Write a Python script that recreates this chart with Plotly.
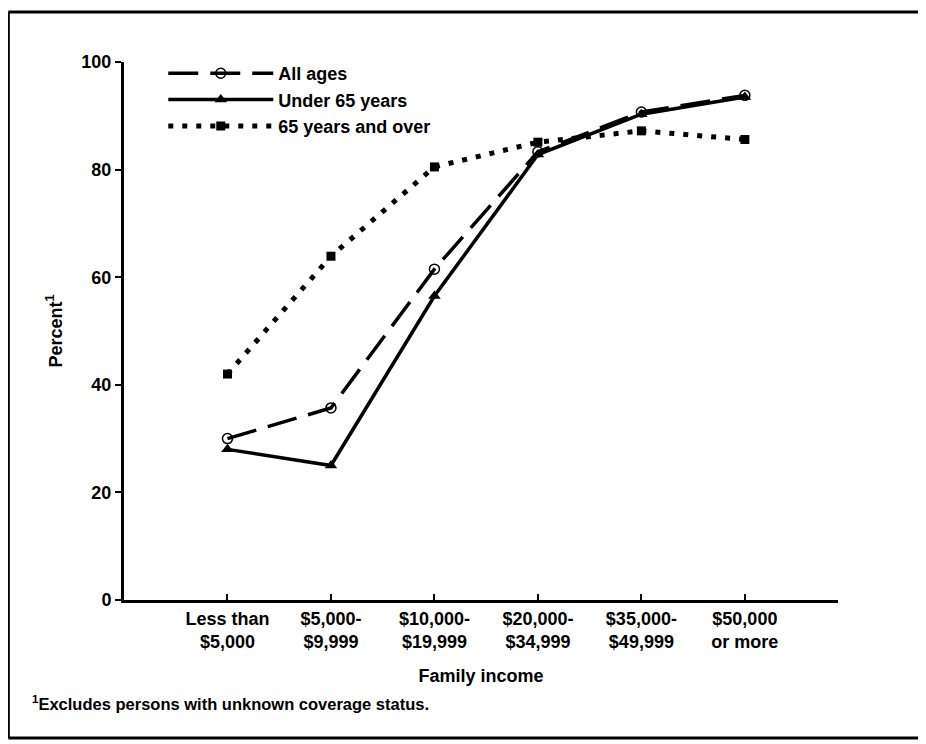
import plotly.graph_objects as go

categories = ["Less than<br>$5,000", "$5,000-<br>$9,999", "$10,000-<br>$19,999",
              "$20,000-<br>$34,999", "$35,000-<br>$49,999", "$50,000<br>or more"]
all_ages = [30.0, 35.7, 61.5, 83.3, 90.7, 93.8]
under_65 = [28.0, 25.0, 56.5, 82.8, 90.3, 93.5]
over_65 = [42.0, 63.9, 80.5, 85.1, 87.2, 85.6]
y_ticks = [0, 20, 40, 60, 80, 100]

FONT = "Liberation Sans, Arial, sans-serif"
xs = list(range(len(categories)))

fig = go.Figure()
fig.add_trace(go.Scatter(
    x=xs, y=all_ages, name="All ages", mode="lines+markers",
    line=dict(color="black", width=3.5, dash="30px,12px"),
    marker=dict(symbol="circle-open", size=10, color="black", line=dict(width=1.5)),
))
fig.add_trace(go.Scatter(
    x=xs, y=under_65, name="Under 65 years", mode="lines+markers",
    line=dict(color="black", width=3.5),
    marker=dict(symbol="triangle-up", size=11, color="black"),
))
fig.add_trace(go.Scatter(
    x=xs, y=over_65, name="65 years and over", mode="lines+markers",
    line=dict(color="black", width=5, dash="5px,9px"),
    marker=dict(symbol="square", size=9, color="black"),
))

border = dict(color="black", width=3)
fig.update_layout(
    width=918, height=736,
    margin=dict(l=116, r=88, t=54, b=144),
    paper_bgcolor="white", plot_bgcolor="white",
    font=dict(family=FONT, size=18, color="black", weight="bold"),
    showlegend=True,
    legend=dict(x=0.055, y=1.013, xanchor="left", yanchor="top",
                bgcolor="rgba(0,0,0,0)", font=dict(size=18), itemwidth=105,
                tracegroupgap=0),
    xaxis=dict(
        range=[-1.0, 5.9], tickmode="array", tickvals=xs, ticktext=categories,
        showline=True, linecolor="black", linewidth=3, showgrid=False, zeroline=False,
        ticks="inside", ticklen=6, tickwidth=2, tickcolor="black",
        tickfont=dict(size=18),
        title=dict(text="Family income", font=dict(size=18), standoff=19),
    ),
    yaxis=dict(
        range=[0, 100], tickmode="array", tickvals=y_ticks,
        showline=True, linecolor="black", linewidth=3, showgrid=False, zeroline=False,
        ticks="outside", ticklen=6, tickwidth=2, tickcolor="black",
        tickfont=dict(size=18),
        title=dict(text="Percent<sup>1</sup>", font=dict(size=18), standoff=15),
    ),
    shapes=[
        dict(type="line", xref="paper", yref="paper", x0=-0.162, x1=1.2, y0=1.093, y1=1.093, line=border),
        dict(type="line", xref="paper", yref="paper", x0=-0.162, x1=-0.162, y0=1.093, y1=-0.2565, line=border),
        dict(type="line", xref="paper", yref="paper", x0=-0.162, x1=1.2, y0=-0.2565, y1=-0.2565, line=border),
    ],
    annotations=[dict(text="<sup>1</sup>Excludes persons with unknown coverage status.",
                      xref="paper", yref="paper", x=-0.1317, y=-0.192,
                      xanchor="left", yanchor="middle", showarrow=False,
                      font=dict(size=16.5))],
)

fig.write_html("out.html",
               post_script="document.documentElement.style.overflow='hidden';"
                           "document.body.style.overflow='hidden';")
